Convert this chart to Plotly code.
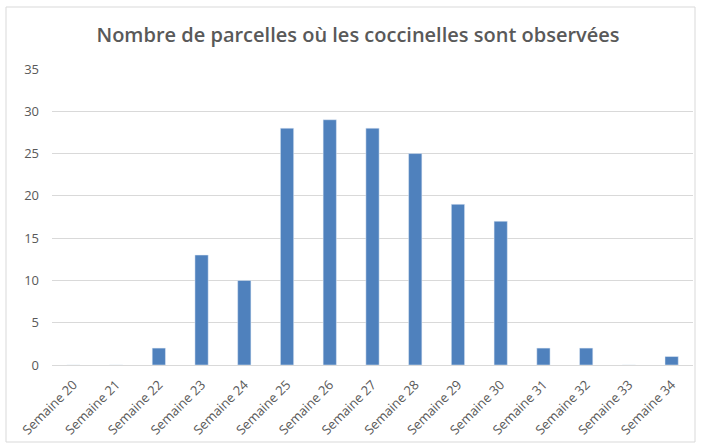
import plotly.graph_objects as go

categories = [f"Semaine {i}" for i in range(20, 35)]
values = [0, 0, 2, 13, 10, 28, 29, 28, 25, 19, 17, 2, 2, 0, 1]
y_ticks = [0, 5, 10, 15, 20, 25, 30, 35]

W, H = 701, 444
L, R, T, B = 52, 8, 69, 79
pw, ph = W - L - R, H - T - B

def px(x):
    return (x - L) / pw

def py(y):
    return (H - B - y) / ph

fig = go.Figure(go.Bar(x=categories, y=values, marker_color="#4F81BD", width=0.31))

fig.update_layout(
    width=W, height=H,
    margin=dict(l=L, r=R, t=T, b=B, autoexpand=False),
    paper_bgcolor="white", plot_bgcolor="white",
    font=dict(family="Open Sans", color="#595959"),
    title=dict(text="Nombre de parcelles où les coccinelles sont observées",
               x=px(358), xref="paper", xanchor="center",
               y=1 - 35 / H, yanchor="middle",
               font=dict(size=20, color="#595959", family="Open Sans", weight=600)),
    showlegend=False,
    shapes=[dict(type="rect", xref="paper", yref="paper",
                 x0=px(6), x1=px(695), y0=py(442), y1=py(7),
                 line=dict(color="#D9D9D9", width=1), fillcolor="rgba(0,0,0,0)", layer="below")],
)
fig.update_xaxes(tickangle=-45, tickfont=dict(size=13, color="#595959"), automargin=False,
                 showline=True, linecolor="#D9D9D9", linewidth=1, ticks="", showgrid=False,
                 ticklabelstandoff=6)
fig.update_yaxes(range=[0, 35], tickvals=y_ticks, showgrid=True, gridcolor="#D9D9D9",
                 zeroline=False, tickfont=dict(size=13, color="#595959"), ticks="",
                 ticklabelstandoff=12, automargin=False)

fig.write_html("out.html", config={"displayModeBar": False})

with open("out.html", "r", encoding="utf-8") as f:
    html = f.read()
html = html.replace("<head>", "<head><style>html,body{margin:0;padding:0;}</style>", 1)
with open("out.html", "w", encoding="utf-8") as f:
    f.write(html)
